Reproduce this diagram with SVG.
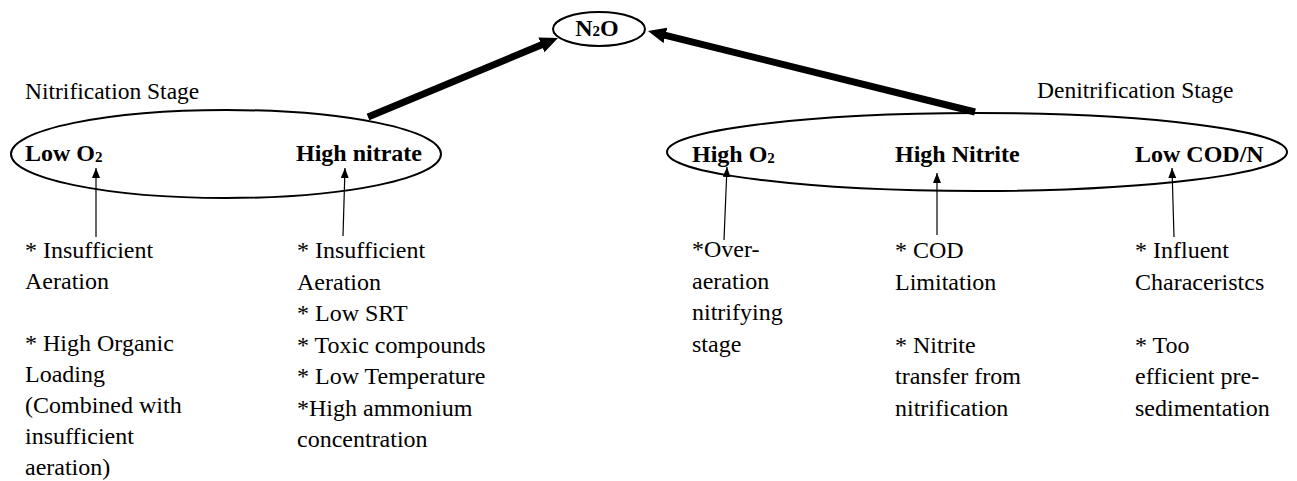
<svg xmlns="http://www.w3.org/2000/svg" width="1297" height="481" viewBox="0 0 1297 481">
  <style>
    .bg { fill: #ffffff; }
    .shape { fill: none; stroke: #000; stroke-width: 2; }
    .t { font-family: "Liberation Serif", "Times New Roman", serif; font-size: 24px; fill: #000; }
    .stage { font-family: "Liberation Serif", "Times New Roman", serif; font-size: 23.5px; fill: #000; }
    .b { font-family: "Liberation Serif", "Times New Roman", serif; font-size: 24px; font-weight: bold; fill: #000; }
    .sub { font-size: 15px; }
    .thick { stroke: #000; stroke-width: 7; fill: none; }
    .thin { stroke: #000; stroke-width: 1.2; fill: none; }
  </style>
  <defs>
    <marker id="bigHead" viewBox="0 0 18 16" refX="1" refY="8" markerWidth="18" markerHeight="16" markerUnits="userSpaceOnUse" orient="auto">
      <path d="M0,0 L18,8 L0,16 z" fill="#000"/>
    </marker>
    <marker id="smallHead" viewBox="0 0 10 8" refX="10" refY="4" markerWidth="10" markerHeight="8" markerUnits="userSpaceOnUse" orient="auto">
      <path d="M0,0 L10,4 L0,8 z" fill="#000"/>
    </marker>
  </defs>

  <rect class="bg" x="0" y="0" width="1297" height="481"/>

  <!-- product -->
  <g id="n2o">
    <ellipse class="shape" cx="599" cy="29" rx="46" ry="17"/>
    <text class="b" x="597" y="36" text-anchor="middle">N<tspan class="sub" dy="0">2</tspan>O</text>
  </g>

  <!-- nitrification side -->
  <g id="nitrification">
    <text class="stage" x="25" y="99">Nitrification Stage</text>
    <ellipse class="shape" cx="226" cy="154" rx="215" ry="44"/>
    <text class="b" x="25" y="161">Low O<tspan class="sub" dy="1">2</tspan></text>
    <text class="b" x="296" y="161">High nitrate</text>
  </g>

  <g id="causes-low-o2">
    <text class="t" x="25" y="258">* Insufficient</text>
    <text class="t" x="25" y="289">Aeration</text>
    <text class="t" x="25" y="351">* High Organic</text>
    <text class="t" x="25" y="382">Loading</text>
    <text class="t" x="25" y="413">(Combined with</text>
    <text class="t" x="25" y="444">insufficient</text>
    <text class="t" x="25" y="475">aeration)</text>
  </g>

  <g id="causes-high-nitrate">
    <text class="t" x="297" y="258">* Insufficient</text>
    <text class="t" x="297" y="289.5">Aeration</text>
    <text class="t" x="297" y="321">* Low SRT</text>
    <text class="t" x="297" y="352.5">* Toxic compounds</text>
    <text class="t" x="297" y="384">* Low Temperature</text>
    <text class="t" x="297" y="415.5">*High ammonium</text>
    <text class="t" x="297" y="447">concentration</text>
  </g>

  <!-- denitrification side -->
  <g id="denitrification">
    <text class="stage" x="1037" y="98">Denitrification Stage</text>
    <ellipse class="shape" cx="977" cy="152" rx="310" ry="39"/>
    <text class="b" x="692" y="162">High O<tspan class="sub" dy="1">2</tspan></text>
    <text class="b" x="895" y="162">High Nitrite</text>
    <text class="b" x="1135" y="162">Low COD/N</text>
  </g>

  <g id="causes-high-o2">
    <text class="t" x="692" y="257">*Over-</text>
    <text class="t" x="692" y="288.5">aeration</text>
    <text class="t" x="692" y="320">nitrifying</text>
    <text class="t" x="692" y="351.5">stage</text>
  </g>

  <g id="causes-high-nitrite">
    <text class="t" x="895" y="258">* COD</text>
    <text class="t" x="895" y="289.5">Limitation</text>
    <text class="t" x="895" y="352.5">* Nitrite</text>
    <text class="t" x="895" y="384">transfer from</text>
    <text class="t" x="895" y="415.5">nitrification</text>
  </g>

  <g id="causes-low-cod">
    <text class="t" x="1135" y="258">* Influent</text>
    <text class="t" x="1135" y="289.5">Characeristcs</text>
    <text class="t" x="1135" y="352.5">* Too</text>
    <text class="t" x="1135" y="384">efficient pre-</text>
    <text class="t" x="1135" y="415.5">sedimentation</text>
  </g>

  <!-- connectors -->
  <g id="connectors">
    <line class="thick" x1="368" y1="117" x2="542.3" y2="44.5" marker-end="url(#bigHead)"/>
    <line class="thick" x1="975" y1="112" x2="664.5" y2="35.1" marker-end="url(#bigHead)"/>
    <line class="thin" x1="96" y1="237" x2="96" y2="168" marker-end="url(#smallHead)"/>
    <line class="thin" x1="343" y1="236" x2="345" y2="168" marker-end="url(#smallHead)"/>
    <line class="thin" x1="724" y1="240" x2="727" y2="167" marker-end="url(#smallHead)"/>
    <line class="thin" x1="937" y1="235" x2="937" y2="173" marker-end="url(#smallHead)"/>
    <line class="thin" x1="1174" y1="237" x2="1172" y2="168" marker-end="url(#smallHead)"/>
  </g>
</svg>
